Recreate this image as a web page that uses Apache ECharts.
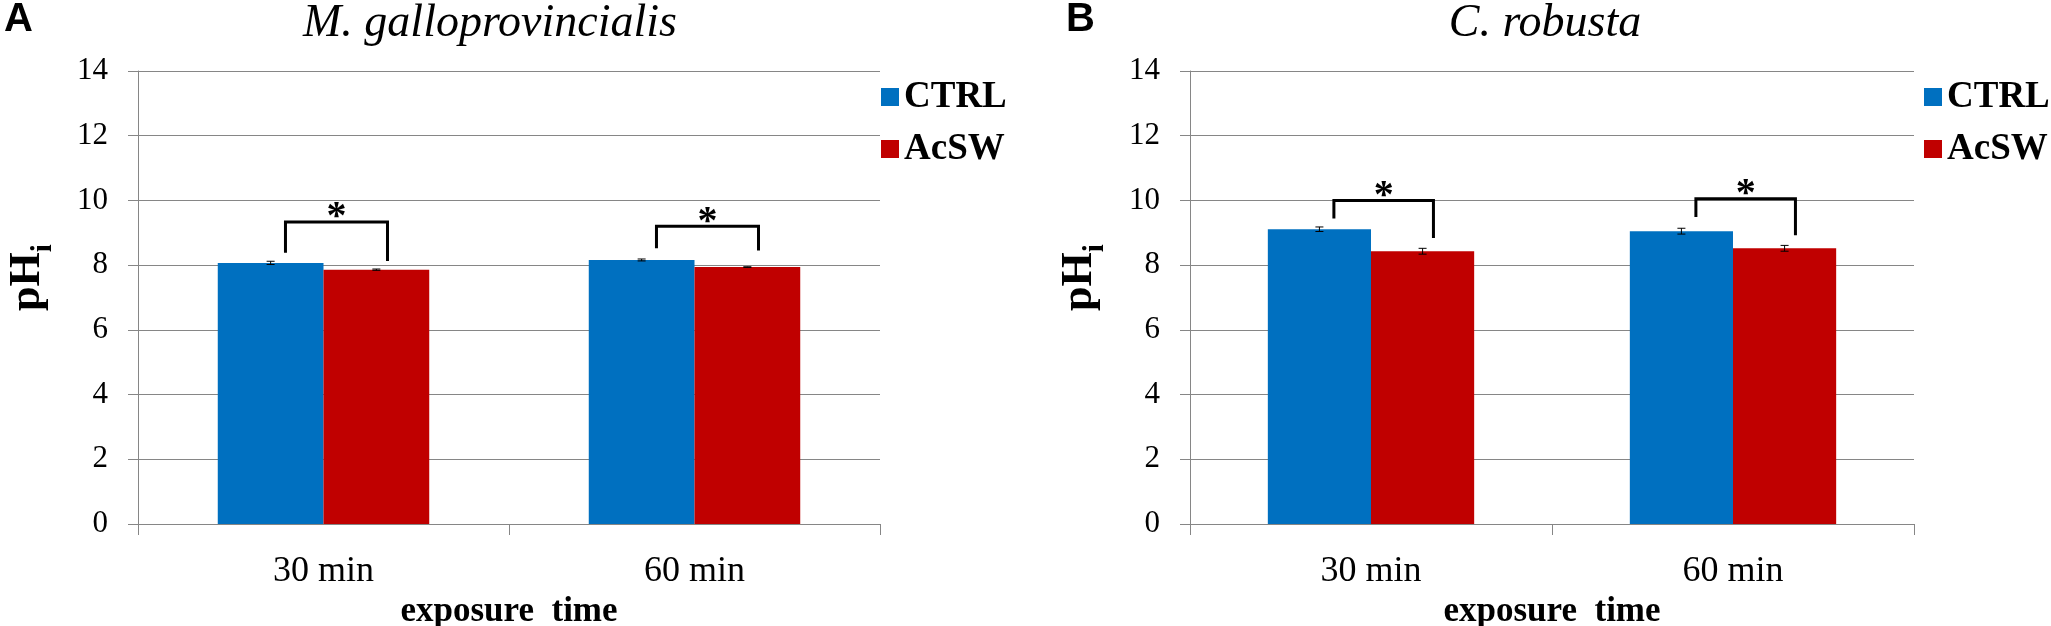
<!DOCTYPE html>
<html>
<head>
<meta charset="utf-8">
<script src="https://cdn.jsdelivr.net/npm/echarts@6/dist/echarts.min.js"></script>
<style>
  html, body { margin: 0; padding: 0; background: #fff; }
  #chart { width: 2051px; height: 626px; }
</style>
</head>
<body>
<div id="chart"></div>
<script>
// data
var categories = ['30 min', '60 min'];
var seriesNames = ['CTRL', 'AcSW'];
var yTicks = [0, 2, 4, 6, 8, 10, 12, 14];

// panel A: M. galloprovincialis
var ctrlA = [8.07, 8.16];
var ctrlErrA = [0.05, 0.03];
var acswA = [7.86, 7.94];
var acswErrA = [0.02, 0.01];
// significance brackets: [top, left leg end, right leg end]
var bracketA = [[9.33, 8.38, 8.13], [9.2, 8.52, 8.45]];

// panel B: C. robusta
var ctrlB = [9.11, 9.05];
var ctrlErrB = [0.07, 0.09];
var acswB = [8.43, 8.52];
var acswErrB = [0.09, 0.09];
var bracketB = [[10.0, 9.44, 8.84], [10.05, 9.49, 8.92]];

var SERIF = "'Liberation Serif', 'Times New Roman', serif";
var SANS = "'Liberation Sans Narrow', 'Liberation Sans', Arial, sans-serif";
var BLUE = '#0070C0';
var RED = '#C00000';
var GREY = '#868686';
var BAR_W = 0.285; // share of category width per bar

var myChart = echarts.init(document.getElementById('chart'));

function xAxisFor(idx) {
  return {
    type: 'category',
    gridIndex: idx,
    data: categories,
    axisLine: { lineStyle: { color: GREY, width: 1 } },
    axisTick: { show: true, length: 11, lineStyle: { color: GREY } },
    axisLabel: { color: '#000', fontFamily: SERIF, fontSize: 36, margin: 30 },
    name: 'exposure  time',
    nameLocation: 'middle',
    nameGap: 68,
    nameTextStyle: { color: '#000', fontFamily: SERIF, fontWeight: 'bold', fontSize: 35 }
  };
}

function yAxisFor(idx) {
  return {
    type: 'value',
    gridIndex: idx,
    min: yTicks[0],
    max: yTicks[yTicks.length - 1],
    interval: 2,
    axisLine: { show: true, lineStyle: { color: GREY, width: 1 } },
    axisTick: { show: true, length: 10, lineStyle: { color: GREY } },
    splitLine: { lineStyle: { color: GREY, width: 1 } },
    axisLabel: { color: '#000', fontFamily: SERIF, fontSize: 31, margin: 30 },
    name: '{p|pH}{s|i}',
    nameLocation: 'middle',
    nameRotate: 90,
    nameGap: 88,
    nameTextStyle: {
      padding: [0, 0, 0, 40],
      rich: {
        p: { color: '#000', fontFamily: SERIF, fontWeight: 'bold', fontSize: 44 },
        s: { color: '#000', fontFamily: SERIF, fontWeight: 'bold', fontSize: 29, verticalAlign: 'bottom', padding: [0, 0, -8, 0] }
      }
    }
  };
}

function barSeries(name, idx, values, color) {
  return {
    name: name,
    type: 'bar',
    xAxisIndex: idx,
    yAxisIndex: idx,
    data: values,
    barWidth: (BAR_W * 100) + '%',
    barGap: '0%',
    itemStyle: { color: color },
    emphasis: { disabled: true }
  };
}

function errorSeries(idx, values, errs, offset) {
  var data = values.map(function (v, i) { return [i, v, errs[i]]; });
  return {
    type: 'custom',
    xAxisIndex: idx,
    yAxisIndex: idx,
    z: 5,
    silent: true,
    data: data,
    renderItem: function (params, api) {
      var band = api.size([1, 0])[0];
      var base = api.coord([api.value(0), api.value(1)]);
      var x = base[0] + offset * band;
      var hi = api.coord([api.value(0), api.value(1) + api.value(2)])[1];
      var lo = api.coord([api.value(0), api.value(1) - api.value(2)])[1];
      var cap = 4;
      var st = { stroke: '#000', lineWidth: 1 };
      return {
        type: 'group',
        children: [
          { type: 'line', shape: { x1: x, y1: hi, x2: x, y2: lo }, style: st },
          { type: 'line', shape: { x1: x - cap, y1: hi, x2: x + cap, y2: hi }, style: st },
          { type: 'line', shape: { x1: x - cap, y1: lo, x2: x + cap, y2: lo }, style: st }
        ]
      };
    }
  };
}

function bracketSeries(idx, brackets) {
  var data = brackets.map(function (b, i) { return [i, b[0], b[1], b[2]]; });
  return {
    type: 'custom',
    xAxisIndex: idx,
    yAxisIndex: idx,
    z: 6,
    silent: true,
    data: data,
    renderItem: function (params, api) {
      var band = api.size([1, 0])[0];
      var cx = api.coord([api.value(0), 0])[0];
      var xl = cx + (-BAR_W / 2 + 0.04) * band;
      var xr = cx + (BAR_W / 2 + 0.03) * band;
      var yt = api.coord([api.value(0), api.value(1)])[1];
      var yl = api.coord([api.value(0), api.value(2)])[1];
      var yr = api.coord([api.value(0), api.value(3)])[1];
      return {
        type: 'group',
        children: [
          {
            type: 'polyline',
            shape: { points: [[xl, yl], [xl, yt], [xr, yt], [xr, yr]] },
            style: { stroke: '#000', lineWidth: 3, fill: null }
          },
          {
            type: 'text',
            style: {
              text: '*', x: (xl + xr) / 2, y: yt - 4,
              align: 'center', verticalAlign: 'middle',
              font: 'bold 40px ' + SERIF, fill: '#000'
            }
          }
        ]
      };
    }
  };
}

function legendFor(left) {
  return {
    orient: 'vertical',
    left: left,
    top: 72,
    itemWidth: 18,
    itemHeight: 18,
    itemGap: 12,
    icon: 'rect',
    data: seriesNames,
    selectedMode: false,
    textStyle: { color: '#000', fontFamily: SERIF, fontWeight: 'bold', fontSize: 37, lineHeight: 40 }
  };
}

myChart.setOption({
  animation: false,
  backgroundColor: '#fff',
  grid: [
    { left: 138, right: 2051 - 880, top: 71, bottom: 102, outerBoundsMode: 'none', containLabel: false },
    { left: 1190, right: 2051 - 1914, top: 71, bottom: 102, outerBoundsMode: 'none', containLabel: false }
  ],
  xAxis: [xAxisFor(0), xAxisFor(1)],
  yAxis: [yAxisFor(0), yAxisFor(1)],
  legend: [legendFor(876), legendFor(1919)],
  graphic: [
    { type: 'text', left: 4, top: 0, style: { text: 'A', font: 'bold 40px ' + SANS, fill: '#000' } },
    { type: 'text', left: 1066, top: 0, style: { text: 'B', font: 'bold 40px ' + SANS, fill: '#000' } },
    { type: 'text', x: 490, y: 24, style: { text: 'M. galloprovincialis', align: 'center', verticalAlign: 'middle', font: 'italic 46px ' + SERIF, fill: '#000' } },
    { type: 'text', x: 1545, y: 24, style: { text: 'C. robusta', align: 'center', verticalAlign: 'middle', font: 'italic 46px ' + SERIF, fill: '#000' } }
  ],
  series: [
    barSeries(seriesNames[0], 0, ctrlA, BLUE),
    barSeries(seriesNames[1], 0, acswA, RED),
    barSeries(seriesNames[0], 1, ctrlB, BLUE),
    barSeries(seriesNames[1], 1, acswB, RED),
    errorSeries(0, ctrlA, ctrlErrA, -BAR_W / 2),
    errorSeries(0, acswA, acswErrA, BAR_W / 2),
    errorSeries(1, ctrlB, ctrlErrB, -BAR_W / 2),
    errorSeries(1, acswB, acswErrB, BAR_W / 2),
    bracketSeries(0, bracketA),
    bracketSeries(1, bracketB)
  ]
});
</script>
</body>
</html>
